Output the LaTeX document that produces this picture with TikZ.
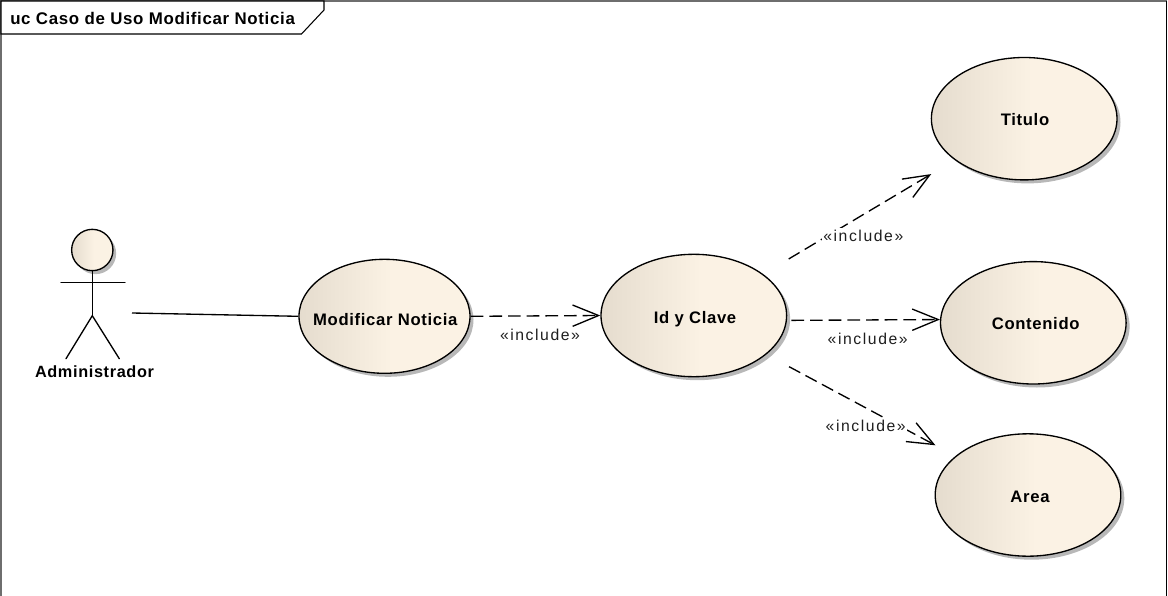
\documentclass[tikz,border=0pt]{standalone}
\usepackage{fontspec}
\setmainfont{Liberation Sans}
\newfontfamily\ucbold[LetterSpace=4]{Liberation Sans Bold}
\newfontfamily\uclabel[LetterSpace=10]{Liberation Sans}
\usetikzlibrary{shapes.geometric,arrows.meta}
\definecolor{ucleft}{HTML}{E5DCCE}
\definecolor{ucright}{HTML}{FBF2E4}
\definecolor{ucshadow}{HTML}{B8B8B8}
\definecolor{ucframe}{HTML}{6E6E6E}
\pgfdeclarehorizontalshading{ucfill}{100bp}{color(0bp)=(ucleft); color(25bp)=(ucleft); color(52bp)=(ucright); color(100bp)=(ucright)}
\tikzset{
  usecase/.style={ellipse,draw=black,line width=1pt,shading=ucfill,inner sep=0pt},
  caselabel/.style={anchor=base,inner sep=0pt,text=black,font=\ucbold\fontsize{12.5}{14}\selectfont},
  ucshade/.style={ellipse,fill=ucshadow,inner sep=0pt},
  dep/.style={line width=1pt,dash pattern=on 9.5pt off 4.5pt,-{Straight Barb[length=19.5pt,width=16pt,line width=1pt]}},
  stereo/.style={anchor=base,fill=white,inner sep=1pt,text=black!88,font=\uclabel\fontsize{11.8}{13}\selectfont},
  assoc/.style={line width=1pt},
  actorline/.style={line width=1pt,line cap=round},
}
\begin{document}
\begin{tikzpicture}[x=.75pt,y=-.75pt]
\useasboundingbox (0,0) rectangle (1168,596);
% frame
\coordinate (fbl) at (1,596);
\coordinate (ftl) at (1,1);
\coordinate (ftr) at (1166.5,1);
\coordinate (fbr) at (1166.5,596);
\draw[ucframe,line width=1.5pt] (fbl) -- (ftl) -- (ftr);
\draw[black,line width=1pt] (ftr) -- (fbr);
% title tab
\draw[fill=white,line width=.8pt] (1,1) -- (324,1) -- (324,10) -- (301.5,34) -- (1,34) -- cycle;
\node[anchor=base west,inner sep=0pt,font=\ucbold\fontsize{12.65}{14}\selectfont] (title) at (10,24) {uc Caso de Uso Modificar Noticia};
% shadows
\node[ucshade,minimum width=128.25pt,minimum height=85.5pt] (modS) at (388,319.8) {};
\node[ucshade,minimum width=139.2pt,minimum height=91.8pt] (idS) at (697.3,319) {};
\node[ucshade,minimum width=139.2pt,minimum height=91.8pt] (titS) at (1027.7,122.2) {};
\node[ucshade,minimum width=139.2pt,minimum height=91.8pt] (conS) at (1036.8,326.3) {};
\node[ucshade,minimum width=139.2pt,minimum height=91.8pt] (areaS) at (1031.5,498.5) {};
\node[ucshade,circle,minimum size=31pt] (headS) at (95.5,253.5) {};
% use cases
\node[usecase,minimum width=128.25pt,minimum height=85.5pt] (mod) at (384.5,316.3) {};
\node[usecase,minimum width=139.2pt,minimum height=91.8pt] (id) at (693.8,315.5) {};
\node[usecase,minimum width=139.2pt,minimum height=91.8pt] (titulo) at (1024.2,118.7) {};
\node[usecase,minimum width=139.2pt,minimum height=91.8pt] (contenido) at (1033.3,322.8) {};
\node[usecase,minimum width=139.2pt,minimum height=91.8pt] (area) at (1028,495) {};
\node[caselabel] (modT) at (385.3,325) {Modificar Noticia};
\node[caselabel] (idT) at (695,323.3) {Id y Clave};
\node[caselabel] (titT) at (1025,125) {Titulo};
\node[caselabel] (conT) at (1035.7,329.5) {Contenido};
\node[caselabel] (areaT) at (1030,502.7) {Area};
% actor
\node[circle,draw=black,line width=1pt,shading=ucfill,minimum size=31pt,inner sep=0pt] (head) at (92.3,250) {};
\coordinate (neck) at (92.3,282.7);
\coordinate (armL) at (61,282.7);
\coordinate (armR) at (125,282.7);
\coordinate (hip) at (92.3,315.7);
\coordinate (legL) at (66,358.7);
\coordinate (legR) at (119.3,358.7);
\draw[actorline] (head.south) -- (hip);
\draw[actorline] (armL) -- (armR);
\draw[actorline] (legL) -- (hip) -- (legR);
\node[caselabel,font=\ucbold\fontsize{12.2}{14}\selectfont] (actor) at (94.5,377.3) {Administrador};
% connectors
\coordinate (actorEnd) at (132,313);
\draw[assoc] (actorEnd) -- (mod.west);
\draw[dep] (mod.east) -- (id.180.5);
\draw[dep,shorten <=22.2pt,shorten >=20.5pt] (id) -- (titulo);
\draw[dep,shorten <=3.3pt] (id.-3) -- (contenido.178.3);
\draw[dep,shorten <=19.3pt,shorten >=17pt] (id) -- (area);
% labels
\node[stereo] (l1) at (540,340.7) {«include»};
\node[stereo] (l2) at (863.3,241) {«include»};
\node[stereo] (l3) at (867.7,344) {«include»};
\node[stereo] (l4) at (865.7,431.7) {«include»};
\end{tikzpicture}
\end{document}
